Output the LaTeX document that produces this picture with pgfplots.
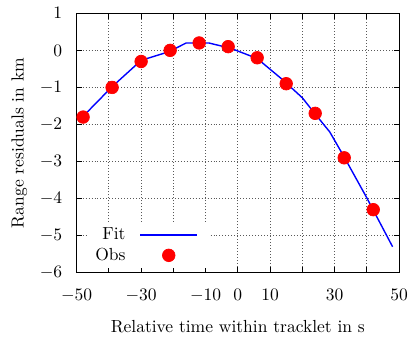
\documentclass[border=0pt]{standalone}
\usepackage{pgfplots}
\pgfplotsset{compat=1.18}

% Legend images: a line segment and a single centred marker
\pgfplotsset{
  fitlegend/.style={legend image code/.code={\draw[##1] (0pt,0pt) -- (32.6pt,0pt); \path (36.5pt,0pt);}},
  obslegend/.style={legend image code/.code={\draw[##1] plot coordinates {(16.3pt,0pt)}; \path (0pt,0pt) (36.5pt,0pt);}},
}

% Observed range residuals (s, km)
\pgfplotstableread{
t    r
-48  -1.8
-39  -1.0
-30  -0.3
-21   0.0
-12   0.2
 -3   0.1
  6  -0.2
 15  -0.9
 24  -1.7
 33  -2.9
 42  -4.3
}\obsdata

% Fitted curve samples
\pgfplotstableread{
t     r
-48   -1.78
-39   -0.98
-30   -0.27
-21.5 -0.04
-16    0.20
-9     0.20
-2     0.05
6     -0.22
14    -0.80
20    -1.28
24    -1.72
28.5  -2.20
33    -2.88
40    -3.98
48    -5.30
}\fitdata

\begin{document}
\begin{tikzpicture}
\begin{axis}[
  scale only axis,
  width=184.2pt, height=148.2pt,
  xmin=-50, xmax=50, ymin=-6, ymax=1,
  xtick={-50,-40,...,50},
  xticklabels={$-50$,,$-30$,,$-10$,$0$,$10$,,$30$,,$50$},
  ytick={-6,-5,...,1},
  tick align=inside,
  major tick length=3pt,
  tick style={black, line width=0.6pt},
  axis line style={line width=0.6pt},
  grid=major,
  major grid style={black!65, line width=0.5pt, dash pattern=on 0.5pt off 1.2pt},
  xticklabel style={yshift=-6pt},
  yticklabel style={xshift=-4.7pt},
  every axis x label/.style={at={(rel axis cs:0.5,0)}, yshift=-34.2pt, anchor=base},
  every axis y label/.style={at={(rel axis cs:0,0.5)}, xshift=-30.3pt, rotate=90, anchor=base},
  xlabel={Relative time within tracklet in s},
  ylabel={Range residuals in km},
  legend plot pos=right,
  legend cell align=right,
  legend style={at={(rel axis cs:0.035,0.1955)}, anchor=north west,
    draw=none, fill=white, inner xsep=3pt, inner ysep=2pt,
    row sep=1.3pt, column sep=7pt,
    nodes={inner sep=1pt}},
]
\addplot[blue, line width=0.8pt, fitlegend]
  table[x=t, y=r] {\fitdata};
\addlegendentry{Fit}
\addplot[only marks, mark=*, mark size=3.6pt, red, mark options={draw=red, fill=red}, obslegend]
  table[x=t, y=r] {\obsdata};
\addlegendentry{Obs}
\coordinate (sw) at (rel axis cs:0,0);
\end{axis}
\pgfresetboundingbox
\path (sw) ++(-43.8pt,-39.6pt) rectangle ++(233.7pt,195.4pt);
\end{tikzpicture}
\end{document}
